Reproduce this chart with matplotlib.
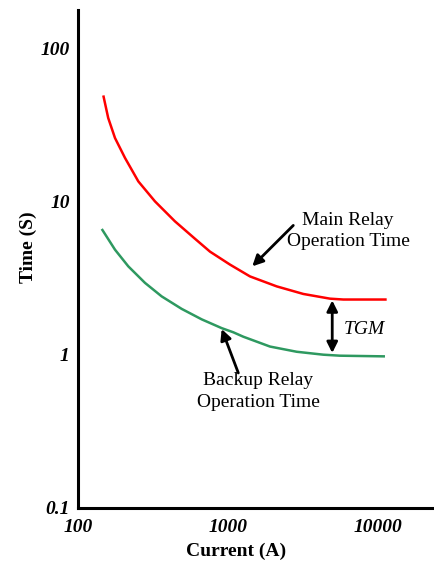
import matplotlib
matplotlib.use('Agg')
import matplotlib.pyplot as plt

# Data (log-log)
main_current = [147.5, 159, 176.5, 205.8, 252.5, 326, 443, 603, 759, 1031, 1402, 2112, 3177, 4786, 5871, 11430]
main_time = [49.1, 35.0, 25.9, 19.2, 13.5, 10.0, 7.41, 5.7, 4.7, 3.87, 3.24, 2.79, 2.49, 2.32, 2.29, 2.29]

backup_current = [144, 176.5, 216.4, 279.7, 361.4, 491, 668, 908, 1085, 1265, 1905, 2870, 4319, 5580, 11136]
backup_time = [6.61, 4.84, 3.77, 2.94, 2.40, 1.99, 1.70, 1.49, 1.40, 1.31, 1.13, 1.045, 1.0, 0.985, 0.975]

x_ticks = [100, 1000, 10000]
x_labels = ['100', '1000', '10000']
y_ticks = [0.1, 1, 10, 100]
y_labels = ['0.1', '1', '10', '100']

plt.rcParams['font.family'] = ['Liberation Serif', 'DejaVu Serif']

fig = plt.figure(figsize=(4.35, 5.62), dpi=100)
ax = fig.add_axes([0.1793, 0.0961, 0.8207, 0.886])

ax.plot(main_current, main_time, color='#FF0000', lw=1.8,
        solid_capstyle='butt', solid_joinstyle='round')
ax.plot(backup_current, backup_time, color='#2E9960', lw=1.8,
        solid_capstyle='butt', solid_joinstyle='round')

ax.set_xscale('log')
ax.set_yscale('log')
ax.set_xlim(100, 24000)
ax.set_ylim(0.1, 177)

ax.set_xticks(x_ticks)
ax.set_xticklabels(x_labels)
ax.set_yticks(y_ticks)
ax.set_yticklabels(y_labels)
ax.minorticks_off()
ax.tick_params(length=0, labelsize=14)
ax.tick_params(axis='x', pad=8)
ax.tick_params(axis='y', pad=6)
for lab in ax.get_xticklabels() + ax.get_yticklabels():
    lab.set_fontweight('bold')
    lab.set_fontstyle('italic')

for s in ['top', 'right']:
    ax.spines[s].set_visible(False)
for s in ['left', 'bottom']:
    ax.spines[s].set_linewidth(2.2)

ax.set_xlabel('Current (A)', fontsize=14, fontweight='bold')
ax.set_ylabel('Time (S)', fontsize=14, fontweight='bold')
ax.xaxis.set_label_coords(0.443, -0.07)
ax.yaxis.set_label_coords(-0.115, 0.524)

arrow = dict(arrowstyle='-|>', color='black', lw=2, mutation_scale=16, shrinkA=0, shrinkB=0)

# Main relay annotation
ax.annotate('', xy=(1452, 3.77), xytext=(2725, 6.97), arrowprops=arrow)
ax.text(6310, 6.39, 'Main Relay\nOperation Time', ha='center', va='center',
        fontsize=14, linespacing=1.35)

# Backup relay annotation
ax.annotate('', xy=(908, 1.47), xytext=(1172, 0.76), arrowprops=arrow)
ax.text(1592, 0.574, 'Backup Relay\nOperation Time', ha='center', va='center',
        fontsize=14, linespacing=1.35)

# Time grading margin
ax.annotate('', xy=(4955, 2.26), xytext=(4955, 1.026),
            arrowprops=dict(arrowstyle='<|-|>', color='black', lw=2,
                            mutation_scale=16, shrinkA=0, shrinkB=0))
ax.text(5870, 1.456, 'TGM', ha='left', va='center', fontsize=14, fontstyle='italic')

plt.savefig('out.png', dpi=100)
